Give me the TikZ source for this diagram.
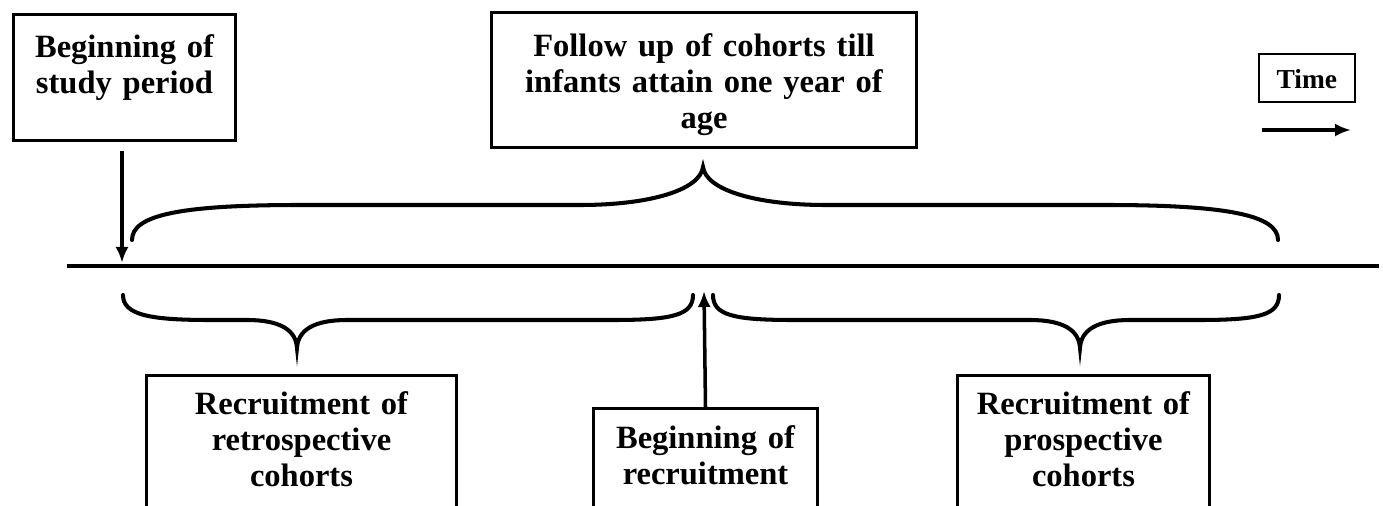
\documentclass[tikz,border=0pt]{standalone}
\usepackage{fontspec}
\setmainfont{Liberation Serif}
\usetikzlibrary{positioning, arrows.meta}
\tikzset{
	box/.style={draw, rectangle, line width=1.7pt, inner sep=0pt, anchor=north west, align=center, font=\bfseries\fontsize{18.5pt}{20.5pt}\selectfont},
	timebox/.style={draw, rectangle, line width=1pt, inner sep=0pt, anchor=north west, align=center, font=\bfseries\fontsize{15.6pt}{18pt}\selectfont},
	% for the curly brackets along the time line
	curly/.style={line width=2.3pt, line cap=round},
	timeline/.style={line width=2.8pt},
}

\begin{document}
\begin{tikzpicture}[x=0.2mm, y=-0.2mm]
	\path[use as bounding box, clip] (0,0) rectangle (1383,506);
	
	\node (study) [box, text width=44.4mm, text height=8.6mm, text depth=16.6mm] at (12,13) {Beginning of\\study period};
	\node (follow) [box, text width=85mm, text height=8.8mm, text depth=18.2mm] at (490,11) {Follow up of cohorts till\\infants attain one year of\\age};
	\node (time) [timebox, text width=19.2mm, text height=7mm, text depth=2.6mm] at (1258,53) {Time};
	
	\node (retro) [box, text width=62mm, text height=7.8mm, text depth=30mm] at (145,374) {Recruitment of\\retrospective\\cohorts};
	\node (recruit) [box, text width=44.8mm, text height=8mm, text depth=26mm] at (592,407) {Beginning of\\recruitment};
	\node (prosp) [box, text width=50.4mm, text height=7.8mm, text depth=30mm] at (956,374) {Recruitment of\\prospective\\cohorts};
	
	\coordinate (tl0) at (67,266);
	\coordinate (tl1) at (1379,266);
	\coordinate (studystart) at (122,263);
	\coordinate (recstart) at (704,291);
	\coordinate (t0) at (1262,130);
	\coordinate (t1) at (1351,130);
	
	\draw [timeline] (tl0) -- (tl1);
	
	% curly brackets
	\draw [curly] (132,240) .. controls (132,215) and (180,205) .. (300,205) -- (580,205)
		.. controls (650,205) and (700,190) .. (703,167)
		.. controls (706,190) and (756,205) .. (826,205) -- (1106,205)
		.. controls (1226,205) and (1278,215) .. (1278,240);
	\draw [curly] (123,295) .. controls (123,315) and (150,320) .. (210,320) -- (247,320)
		.. controls (280,320) and (296,330) .. (297,348)
		.. controls (298,330) and (314,320) .. (347,320) -- (613,320)
		.. controls (673,320) and (693,315) .. (693,295);
	\draw [curly] (713,295) .. controls (713,315) and (733,320) .. (793,320) -- (1030,320)
		.. controls (1063,320) and (1079,330) .. (1080,348)
		.. controls (1081,330) and (1097,320) .. (1130,320) -- (1199,320)
		.. controls (1259,320) and (1279,315) .. (1279,295);
	
	\begin{scope}[line width=2pt, black, ->, >={Latex[length=3.2mm, width=2.6mm]}]
		\draw [shorten <=1.8mm] (study.south -| studystart) -- (studystart);
		\draw (recruit.north) -- (recstart);
		\draw (t0) -- (t1);
	\end{scope}
\end{tikzpicture}
\end{document}
